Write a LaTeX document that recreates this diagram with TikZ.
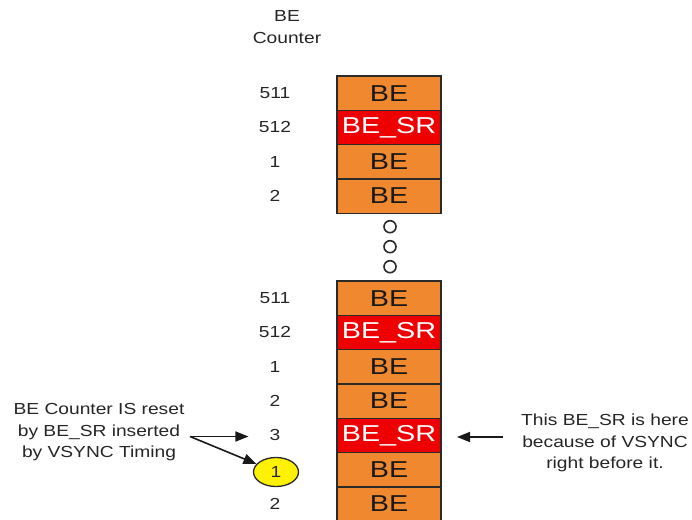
\documentclass[tikz,border=0pt]{standalone}
\usepackage{fontspec}
\usepackage{graphicx}
\setmainfont{Liberation Sans}
\usetikzlibrary{arrows.meta,shapes.geometric}
\definecolor{beorange}{HTML}{F08830}
\definecolor{bered}{HTML}{EE0000}
\definecolor{edge}{HTML}{2A2A2A}
\definecolor{txt}{HTML}{262626}
\newcommand{\hs}[1]{\scalebox{1.2}[1]{#1}}
\newcommand{\hsb}[1]{\scalebox{1.25}[1]{#1}}
\tikzset{
  becell/.style={draw=edge, line width=1.4pt, fill=beorange, minimum width=104pt,
    minimum height=34.3pt, inner sep=0pt, outer sep=0pt, text=black!90,
    font=\fontsize{23}{23}\selectfont},
  srcell/.style={becell, fill=bered, text=white},
  cnt/.style={inner sep=0pt, text=txt, font=\fontsize{16}{16}\selectfont},
  note/.style={inner sep=0pt, text=txt, font=\fontsize{16}{21.5}\selectfont},
  dot/.style={circle, draw=edge, line width=1.6pt, minimum size=12pt, inner sep=0pt},
  arr/.style={line width=1.6pt, draw=black!90, -{Triangle[length=13pt,width=10pt]}},
  hl/.style={ellipse, draw=edge, line width=1.3pt, fill=yellow, minimum width=45pt,
    minimum height=29pt, inner sep=0pt, text=txt, font=\fontsize{16}{16}\selectfont}
}
\begin{document}
\begin{tikzpicture}[x=1pt,y=-1pt]
\path[use as bounding box, clip] (0,0) rectangle (692,519);
\fill[white] (0,0) rectangle (692,519);

% header
\node[note] (hdr) at (287,28) {\hs{\begin{tabular}{@{}c@{}}BE\\Counter\end{tabular}}};

% top stack
\node[becell] (t1) at (389,93.15)  {\hsb{BE}};
\node[srcell] (t2) at (389,127.45) {\hsb{BE\_SR}};
\node[becell] (t3) at (389,161.75) {\hsb{BE}};
\node[becell] (t4) at (389,196.05) {\hsb{BE}};

\node[cnt] (ct1) at (275,93.15)  {\hs{511}};
\node[cnt] (ct2) at (275,127.45) {\hs{512}};
\node[cnt] (ct3) at (275,161.75) {\hs{1}};
\node[cnt] (ct4) at (275,196.05) {\hs{2}};

% ellipsis dots
\node[dot] (d1) at (390,226.7) {};
\node[dot] (d2) at (390,246.7) {};
\node[dot] (d3) at (390,266.7) {};

% bottom stack
\node[becell] (b1) at (389,298.15) {\hsb{BE}};
\node[srcell] (b2) at (389,332.45) {\hsb{BE\_SR}};
\node[becell] (b3) at (389,366.75) {\hsb{BE}};
\node[becell] (b4) at (389,401.05) {\hsb{BE}};
\node[srcell] (b5) at (389,435.35) {\hsb{BE\_SR}};
\node[becell] (b6) at (389,469.65) {\hsb{BE}};
\node[becell] (b7) at (389,503.95) {\hsb{BE}};

\node[cnt] (cb1) at (275,298.15) {\hs{511}};
\node[cnt] (cb2) at (275,332.45) {\hs{512}};
\node[cnt] (cb3) at (275,366.75) {\hs{1}};
\node[cnt] (cb4) at (275,401.05) {\hs{2}};
\node[cnt] (cb5) at (275,435.35) {\hs{3}};
\node[hl]  (cb6) at (276,472)    {\hs{1}};
\node[cnt] (cb7) at (275,503.95) {\hs{2}};

% notes
\node[note] (lnote) at (99,432) {\hs{\begin{tabular}{@{}c@{}}BE Counter IS reset\\by BE\_SR inserted\\by VSYNC Timing\end{tabular}}};
\node[note] (rnote) at (605,443) {\hs{\begin{tabular}{@{}c@{}}This BE\_SR is here\\because of VSYNC\\right before it.\end{tabular}}};

\coordinate (ls) at (190,436.5);
\coordinate (rs) at (503,437);
\draw[arr, shorten >=21pt] (ls) -- (cb5.west |- ls);
\draw[arr] (ls) -- (cb6);
\draw[arr, shorten >=16pt] (rs) -- (b5.east |- rs);
\end{tikzpicture}
\end{document}
